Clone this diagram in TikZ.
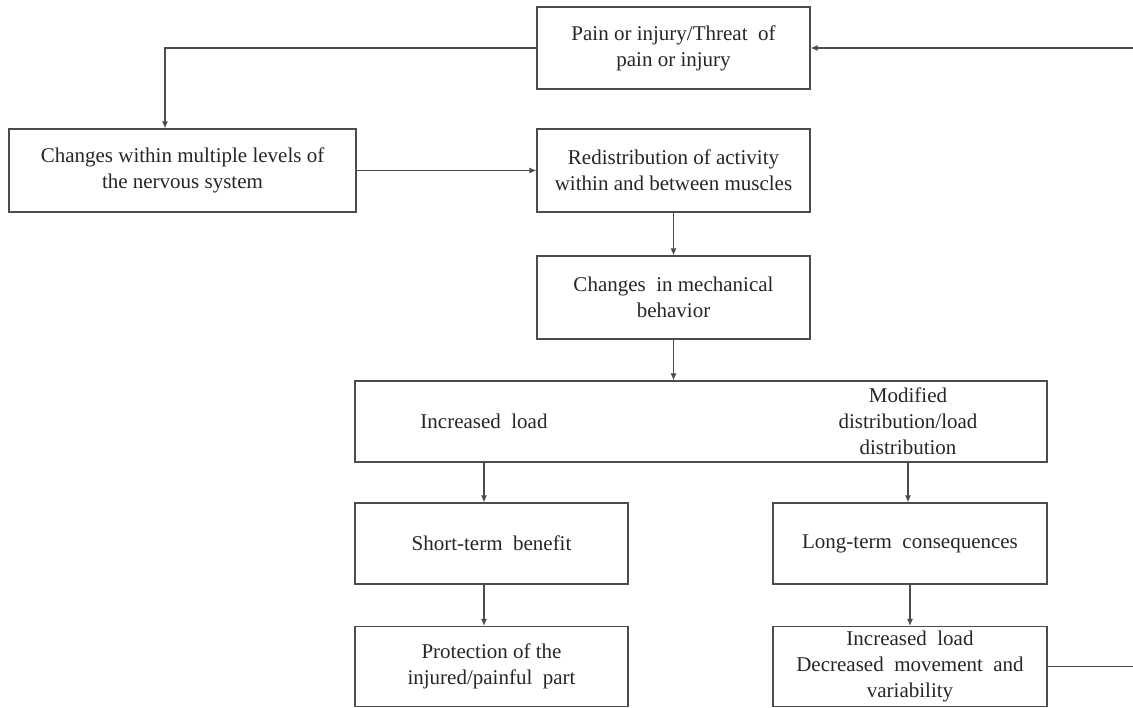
\documentclass[tikz,border=0pt]{standalone}
\usepackage{fontspec}
\setmainfont{Liberation Serif}
\usetikzlibrary{arrows.meta}
\begin{document}
\begin{tikzpicture}[x=1pt,y=-1pt,
  box/.style={draw=black!70, line width=1.2pt, inner sep=0pt, align=center,
    text=black!85, font=\fontsize{21}{26}\selectfont},
  txt/.style={inner sep=0pt, align=center, text=black!85, font=\fontsize{21}{26}\selectfont},
  conn/.style={draw=black!70, line width=1.2pt, -{Latex[length=7pt,width=6pt]}},
  plain/.style={draw=black!70, line width=1.2pt}]
\useasboundingbox (0,0) rectangle (1133,708);
\node[box, minimum width=273pt, minimum height=82pt] (b1) at (673.5,48) {Pain or injury/Threat\ \ of\\pain or injury};
\node[box, minimum width=347pt, minimum height=83pt] (b2) at (182.5,170.5) {Changes within multiple levels of\\the nervous system};
\node[box, minimum width=273pt, minimum height=83pt] (b3) at (673.5,170.5) {Redistribution of activity\\within and between muscles};
\node[box, minimum width=273pt, minimum height=83pt] (b4) at (673.5,297.5) {Changes\ \ in mechanical\\behavior};
\node[box, minimum width=692pt, minimum height=81pt] (b5) at (701,421.5) {};
\node[txt] (t5a) at (484,421.5) {Increased\ \ load};
\node[txt] (t5b) at (908,421.5) {Modified\\distribution/load\\distribution};
\node[box, minimum width=273pt, minimum height=81pt] (b6) at (491.5,543.5) {Short-term\ \ benefit};
\node[box, minimum width=274pt, minimum height=81pt] (b7) at (910,543.5) {Long-term\ \ consequences};
\node[box, minimum width=273pt, minimum height=80pt] (b8) at (491.5,666.5) {Protection of the\\injured/painful\ \ part};
\node[box, minimum width=274pt, minimum height=80pt] (b9) at (910,666.5) {Increased\ \ load\\Decreased\ \ movement\ \ and\\variability};
\coordinate (cl) at (165,0);
\coordinate (cr) at (1140,0);
\coordinate (ca) at (484,0);
\coordinate (cb) at (908,0);
\draw[conn] (b1.west) -| (b2.north -| cl);
\draw[conn] (b2.east) -- (b3.west);
\draw[conn] (b3.south) -- (b4.north);
\draw[conn] (b4.south) -- (b5.north -| b4.south);
\draw[conn] (b5.south -| ca) -- (b6.north -| ca);
\draw[conn] (b5.south -| cb) -- (b7.north -| cb);
\draw[conn] (b6.south -| ca) -- (b8.north -| ca);
\draw[conn] (b7.south) -- (b9.north);
\draw[conn] (b9.east) -- (b9.east -| cr) |- (b1.east);
\end{tikzpicture}
\end{document}
